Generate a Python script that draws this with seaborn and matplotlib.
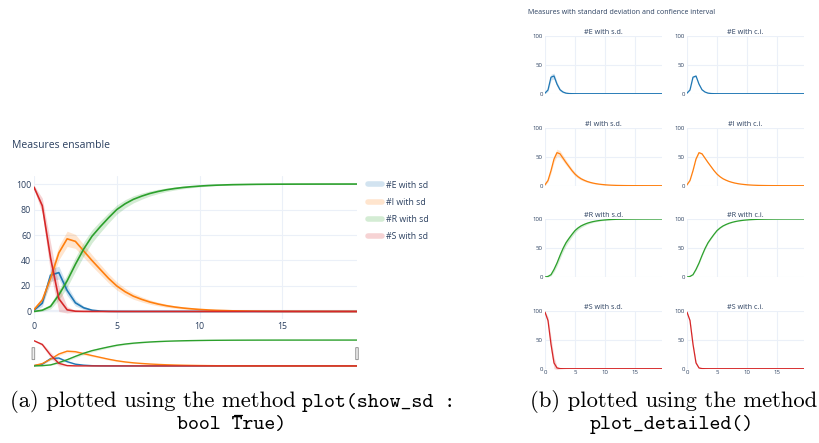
import numpy as np
import matplotlib
matplotlib.use('Agg')
import matplotlib.pyplot as plt
from matplotlib.lines import Line2D
from matplotlib.patches import FancyBboxPatch
import seaborn as sns

# ─── Data (ensemble means, standard deviation and confidence interval) ───────
TIME = np.arange(0, 20, 0.5)

E_MEAN = [1, 6.5, 28.5, 30.5, 16.5, 6.8, 2.9, 1.0, 0.3, 0.1,
          0.03, 0.01, 0, 0, 0, 0, 0, 0, 0, 0,
          0, 0, 0, 0, 0, 0, 0, 0, 0, 0,
          0, 0, 0, 0, 0, 0, 0, 0, 0, 0]
E_SD = [0.8, 2.5, 5, 5, 4, 2.5, 1.3, 0.6, 0.3, 0.1,
        0.05, 0.02, 0, 0, 0, 0, 0, 0, 0, 0,
        0, 0, 0, 0, 0, 0, 0, 0, 0, 0,
        0, 0, 0, 0, 0, 0, 0, 0, 0, 0]
E_CI = [0.2, 0.6, 1.2, 1.2, 1.0, 0.6, 0.3, 0.15, 0.07, 0.02,
        0.01, 0, 0, 0, 0, 0, 0, 0, 0, 0,
        0, 0, 0, 0, 0, 0, 0, 0, 0, 0,
        0, 0, 0, 0, 0, 0, 0, 0, 0, 0]

I_MEAN = [1.5, 9, 26, 46, 57, 55, 47.5, 40, 33, 26,
          20, 15.5, 12, 9.5, 7.4, 5.8, 4.5, 3.5, 2.7, 2.1,
          1.6, 1.2, 0.9, 0.7, 0.5, 0.4, 0.3, 0.22, 0.17, 0.13,
          0.1, 0.08, 0.06, 0.05, 0.04, 0.03, 0.02, 0.02, 0.01, 0.01]
I_SD = [0.8, 2.5, 4.5, 5.5, 6, 5.5, 5, 4.5, 4, 3.6,
        3.2, 2.8, 2.4, 2.0, 1.7, 1.4, 1.2, 1.0, 0.8, 0.65,
        0.5, 0.4, 0.32, 0.25, 0.2, 0.16, 0.12, 0.1, 0.08, 0.06,
        0.05, 0.04, 0.03, 0.02, 0.02, 0.01, 0.01, 0.01, 0, 0]
I_CI = [0.2, 0.6, 1.1, 1.3, 1.4, 1.3, 1.2, 1.1, 1.0, 0.9,
        0.8, 0.7, 0.6, 0.5, 0.4, 0.35, 0.3, 0.25, 0.2, 0.15,
        0.12, 0.1, 0.08, 0.06, 0.05, 0.04, 0.03, 0.02, 0.02, 0.01,
        0.01, 0.01, 0, 0, 0, 0, 0, 0, 0, 0]

R_MEAN = [0, 1, 4, 13, 24, 37, 49, 59, 66.5, 73.5,
          80, 84.5, 88, 90.5, 92.6, 94.2, 95.5, 96.5, 97.3, 97.9,
          98.4, 98.8, 99.1, 99.3, 99.5, 99.6, 99.7, 99.78, 99.83, 99.87,
          99.9, 99.92, 99.94, 99.95, 99.96, 99.97, 99.98, 99.98, 99.99, 99.99]
R_SD = [0.3, 0.8, 2, 4, 5, 5.5, 5.5, 5, 4.5, 4,
        3.6, 3.2, 2.8, 2.4, 2.0, 1.7, 1.4, 1.2, 1.0, 0.8,
        0.65, 0.5, 0.4, 0.32, 0.25, 0.2, 0.16, 0.12, 0.1, 0.08,
        0.06, 0.05, 0.04, 0.03, 0.02, 0.02, 0.01, 0.01, 0.01, 0]
R_CI = [0.1, 0.2, 0.5, 1.0, 1.2, 1.3, 1.3, 1.2, 1.1, 1.0,
        0.9, 0.8, 0.7, 0.6, 0.5, 0.4, 0.35, 0.3, 0.25, 0.2,
        0.15, 0.12, 0.1, 0.08, 0.06, 0.05, 0.04, 0.03, 0.02, 0.02,
        0.01, 0.01, 0.01, 0, 0, 0, 0, 0, 0, 0]

S_MEAN = [97.5, 83, 42, 10, 1.3, 0.2, 0.05, 0.01, 0, 0,
          0, 0, 0, 0, 0, 0, 0, 0, 0, 0,
          0, 0, 0, 0, 0, 0, 0, 0, 0, 0,
          0, 0, 0, 0, 0, 0, 0, 0, 0, 0]
S_SD = [1.5, 6, 12, 10, 2.5, 0.7, 0.2, 0.05, 0, 0,
        0, 0, 0, 0, 0, 0, 0, 0, 0, 0,
        0, 0, 0, 0, 0, 0, 0, 0, 0, 0,
        0, 0, 0, 0, 0, 0, 0, 0, 0, 0]
S_CI = [0.4, 1.5, 3, 2.5, 0.6, 0.2, 0.05, 0, 0, 0,
        0, 0, 0, 0, 0, 0, 0, 0, 0, 0,
        0, 0, 0, 0, 0, 0, 0, 0, 0, 0,
        0, 0, 0, 0, 0, 0, 0, 0, 0, 0]

MEASURES = ['E', 'I', 'R', 'S']
MEANS = {'E': E_MEAN, 'I': I_MEAN, 'R': R_MEAN, 'S': S_MEAN}
SDS = {'E': E_SD, 'I': I_SD, 'R': R_SD, 'S': S_SD}
CIS = {'E': E_CI, 'I': I_CI, 'R': R_CI, 'S': S_CI}
COLORS = {'E': '#1f77b4', 'I': '#ff7f0e', 'R': '#2ca02c', 'S': '#d62728'}

# ─── Style ────────────────────────────────────────────────────────────────────
sns.set_theme(style='white')
plt.rcParams['font.family'] = ['Open Sans', 'DejaVu Sans']
TXT = '#2a3f5f'
GRID = '#EBF0F8'

W, H = 819, 443
fig = plt.figure(figsize=(W / 100, H / 100), dpi=100)


def box(x0, y0, x1, y1):
    return [x0 / W, 1 - y1 / H, (x1 - x0) / W, (y1 - y0) / H]


def plotly_axes(ax, xticks, yticks, fs):
    for s in ax.spines.values():
        s.set_visible(False)
    ax.set_xticks(xticks)
    ax.set_yticks(yticks)
    ax.grid(True, color=GRID, linewidth=0.8)
    ax.set_axisbelow(True)
    ax.tick_params(length=0, labelsize=fs, colors=TXT, pad=2)
    ax.set_xlabel('')
    ax.set_ylabel('')


def draw(ax, key, band, lw, alpha=0.2):
    m = np.array(MEANS[key])
    b = np.array(band)
    ax.fill_between(TIME, m - b, m + b, color=COLORS[key], alpha=alpha, linewidth=0)
    sns.lineplot(x=TIME, y=m, ax=ax, color=COLORS[key], linewidth=lw)


# ─── (a) Measures ensamble ────────────────────────────────────────────────────
fig.text(12 / W, 1 - 146 / H, 'Measures ensamble', fontsize=7.5, color=TXT, va='center')

ax = fig.add_axes(box(34, 176, 357, 319))
for k in MEASURES:
    draw(ax, k, SDS[k], 1.2)
ax.set_xlim(0, 19.5)
ax.set_ylim(-5.9, 106.3)
plotly_axes(ax, [0, 5, 10, 15], [0, 20, 40, 60, 80, 100], 6.3)
ax.axhline(0, color=GRID, linewidth=1.6, zorder=0)

handles = [Line2D([0], [0], color=COLORS[k], lw=4, alpha=0.2) for k in MEASURES]
labels = [f'#{k} with sd' for k in MEASURES]
fig.legend(handles, labels, loc='upper left', bbox_to_anchor=(364 / W, 1 - 177 / H),
           frameon=False, fontsize=6.3, labelcolor=TXT, handlelength=1.6,
           handletextpad=0.5, labelspacing=0.95, borderaxespad=0)

# range slider
rs = fig.add_axes(box(34, 338, 357, 368))
for k in MEASURES:
    draw(rs, k, SDS[k], 1.0, alpha=0.15)
rs.set_xlim(0, 19.5)
rs.set_ylim(-8, 108)
rs.set_axis_off()
for xa in (-0.006, 1.0 - 0.004):
    rs.add_patch(FancyBboxPatch((xa, 0.28), 0.008, 0.4, boxstyle='round,pad=0,rounding_size=0.004',
                                transform=rs.transAxes, facecolor='#eeeeee', edgecolor='#999999',
                                linewidth=0.7, clip_on=False, zorder=5))

# ─── (b) Detailed subplots ────────────────────────────────────────────────────
fig.text(528 / W, 1 - 13 / H, 'Measures with standard deviation and confience interval',
         fontsize=5, color=TXT, va='center')

COLS = [(545, 662), (687, 804)]
ROW_TOPS = [35.7, 127.7, 219, 310.7]
for r, k in enumerate(MEASURES):
    for c, (x0, x1) in enumerate(COLS):
        sax = fig.add_axes(box(x0, ROW_TOPS[r], x1, ROW_TOPS[r] + 58))
        band = SDS[k] if c == 0 else CIS[k]
        draw(sax, k, band, 0.9)
        sax.set_xlim(0, 19.5)
        sax.set_ylim(0, 100)
        plotly_axes(sax, [0, 5, 10, 15], [0, 50, 100], 4.3)
        sax.tick_params(axis='y', pad=1.5)
        sax.tick_params(axis='x', pad=1)
        if r < 3:
            sax.set_xticklabels([])
        sax.set_title(f'#{k} with ' + ('s.d.' if c == 0 else 'c.i.'),
                      fontsize=5.2, color=TXT, pad=1.5)

# ─── Captions (LaTeX-like: roman + typewriter pieces) ────────────────────────
rm = dict(fontsize=16.3, family='cmr10', ha='left', va='baseline', color='black')
tt = dict(fontsize=15, family='cmtt10', ha='left', va='baseline', color='black')
y1, y2 = 1 - 407 / H, 1 - 429 / H
fig.text(10 / W, y1, '(a) plotted using the method', **rm)
fig.text(302 / W, y1, 'plot(show_sd :', **tt)
fig.text(177 / W, y2, 'bool True)', **tt)
fig.add_artist(Line2D([234 / W, 242 / W], [1 - 415 / H, 1 - 415 / H],
                      transform=fig.transFigure, color='black', linewidth=0.9))
fig.text(530 / W, y1, '(b) plotted using the method', **rm)
fig.text(590 / W, y2, 'plot_detailed()', **tt)

fig.savefig('out.png', dpi=100)
